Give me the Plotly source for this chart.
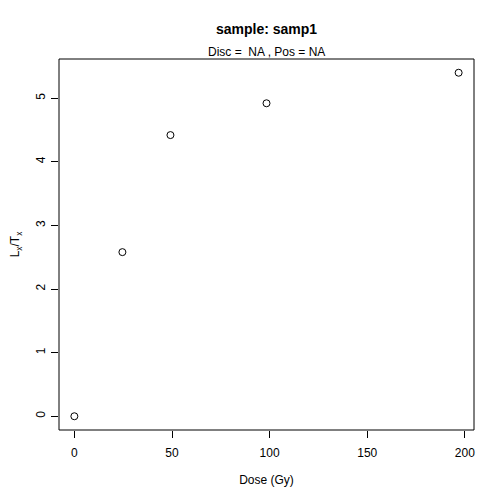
import plotly.graph_objects as go

dose = [0, 24.6, 49.2, 98.4, 196.8]
lxtx = [0, 2.58, 4.42, 4.92, 5.40]
x_ticks = [0, 50, 100, 150, 200]
y_ticks = [0, 1, 2, 3, 4, 5]

font = "Liberation Sans, Arial, Helvetica, sans-serif"

fig = go.Figure()
fig.add_trace(go.Scatter(
    x=dose, y=lxtx, mode="markers",
    marker=dict(symbol="circle-open", size=7, color="black", line=dict(width=1)),
    showlegend=False,
))

# R style: 4% padding on each side
xr = [min(dose) - 0.04 * (max(dose) - min(dose)), max(dose) + 0.04 * (max(dose) - min(dose))]
yr = [min(lxtx) - 0.04 * (max(lxtx) - min(lxtx)), max(lxtx) + 0.04 * (max(lxtx) - min(lxtx))]

fig.update_xaxes(
    range=xr, tickvals=x_ticks, ticks="outside", ticklen=7, tickcolor="black",
    showgrid=False, zeroline=False, showline=False, ticklabelstandoff=5,
    automargin=False,
    tickfont=dict(size=12, color="black"),
    title=dict(text="Dose (Gy)", font=dict(size=12, color="black"), standoff=16),
)
fig.update_yaxes(
    range=yr, tickvals=y_ticks, ticks="outside", ticklen=7, tickcolor="black",
    showgrid=False, zeroline=False, showline=False, tickangle=-90, ticklabelstandoff=1,
    automargin=False,
    tickfont=dict(size=12, color="black"),
    title=dict(text="L<sub>x</sub>/T<sub>x</sub>", font=dict(size=12, color="black"), standoff=14),
)

fig.add_shape(type="rect", xref="paper", yref="paper", x0=0, y0=0, x1=1, y1=1,
              line=dict(color="black", width=1))

fig.add_annotation(text="<b>sample: samp1</b>", xref="paper", yref="paper",
                   x=0.5, y=1, yshift=30, showarrow=False, yanchor="middle",
                   font=dict(size=14, color="black"))
fig.add_annotation(text="Disc =  NA , Pos = NA", xref="paper", yref="paper",
                   x=0.5, y=1, yshift=7, showarrow=False, yanchor="middle",
                   font=dict(size=12, color="black"))

# the page body adds an 8px offset, so margins are reduced to compensate
fig.update_layout(
    width=496, height=488, autosize=False,
    margin=dict(l=51, r=30, t=51, b=66),
    plot_bgcolor="white", paper_bgcolor="white",
    font=dict(family=font, color="black"),
)

fig.write_html("out.html")
